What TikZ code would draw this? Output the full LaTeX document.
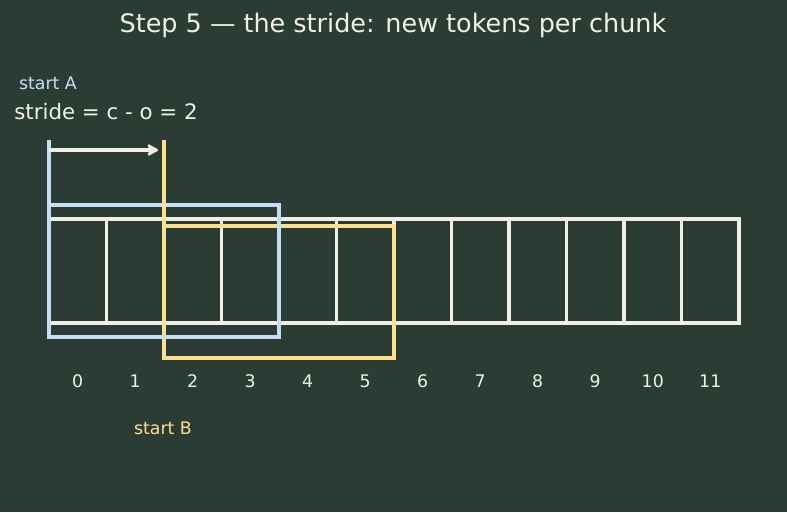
\documentclass[tikz,border=0pt]{standalone}
\usepackage{fontspec}
\setmainfont{DejaVu Sans}
\usetikzlibrary{positioning, arrows.meta}
\definecolor{sfondo}{HTML}{2B3C34}
\definecolor{gesso}{HTML}{F0F0E6}
\definecolor{azzurro}{HTML}{C6DFF7}
\definecolor{giallo}{HTML}{FCE08F}
\begin{document}
\begin{tikzpicture}[
    x=0.75pt, y=-0.75pt,
    cella/.style={rectangle, draw=gesso, line width=2.8pt, inner sep=0pt, outer sep=0pt, minimum width=43.125pt, minimum height=78pt},
    finestra/.style={rectangle, line width=2.8pt, inner sep=0pt, outer sep=0pt, minimum width=172.5pt, minimum height=99pt},
    segno/.style={line width=2.8pt},
    freccia/.style={->, >={Stealth[round, length=10pt, width=11pt, inset=3pt]}, draw=gesso, line width=2.8pt},
    indice/.style={text=gesso, font=\fontsize{13}{15}\selectfont},
    etichetta/.style={font=\fontsize{13}{15}\selectfont}
]
    % 0. Sfondo e cornice
    \fill[sfondo] (0,0) rectangle (787,512);
    \useasboundingbox (0,0) rectangle (787,512);

    % 1. Titolo e testi
    \node[text=gesso, font=\fontsize{19.1}{22}\selectfont] (titolo) at (393,25) {Step 5 — the stride: new tokens per chunk};
    \node[etichetta, text=azzurro] (startA) at (48,83) {start A};
    \node[text=gesso, font=\fontsize{16}{19}\selectfont] (stride) at (106,112) {stride = c - o = 2};
    \node[etichetta, text=giallo] (startB) at (163,428) {start B};

    % 2. Le 12 celle (token)
    \node[cella] (c0) at (77.75,271) {};
    \node[cella, right=0pt of c0]  (c1)  {};
    \node[cella, right=0pt of c1]  (c2)  {};
    \node[cella, right=0pt of c2]  (c3)  {};
    \node[cella, right=0pt of c3]  (c4)  {};
    \node[cella, right=0pt of c4]  (c5)  {};
    \node[cella, right=0pt of c5]  (c6)  {};
    \node[cella, right=0pt of c6]  (c7)  {};
    \node[cella, right=0pt of c7]  (c8)  {};
    \node[cella, right=0pt of c8]  (c9)  {};
    \node[cella, right=0pt of c9]  (c10) {};
    \node[cella, right=0pt of c10] (c11) {};

    % 3. Indici sotto le celle
    \node[indice] (i0)  at ([yshift=-43.5pt]c0.south)  {0};
    \node[indice] (i1)  at ([yshift=-43.5pt]c1.south)  {1};
    \node[indice] (i2)  at ([yshift=-43.5pt]c2.south)  {2};
    \node[indice] (i3)  at ([yshift=-43.5pt]c3.south)  {3};
    \node[indice] (i4)  at ([yshift=-43.5pt]c4.south)  {4};
    \node[indice] (i5)  at ([yshift=-43.5pt]c5.south)  {5};
    \node[indice] (i6)  at ([yshift=-43.5pt]c6.south)  {6};
    \node[indice] (i7)  at ([yshift=-43.5pt]c7.south)  {7};
    \node[indice] (i8)  at ([yshift=-43.5pt]c8.south)  {8};
    \node[indice] (i9)  at ([yshift=-43.5pt]c9.south)  {9};
    \node[indice] (i10) at ([yshift=-43.5pt]c10.south) {10};
    \node[indice] (i11) at ([yshift=-43.5pt]c11.south) {11};

    % 4. Finestre A (azzurra) e B (gialla)
    \node[finestra, draw=giallo] (winB) at (279,292) {};
    \node[finestra, draw=azzurro] (winA) at (164,271) {};

    % 5. Segni di inizio e freccia dello stride
    \coordinate (topA) at (49,140);
    \coordinate (topB) at (164,140);
    \draw[segno, azzurro] (topA) -- (winA.north west);
    \draw[segno, giallo] (topB) -- (winB.north west);
    \coordinate (fA) at (49,150);
    \coordinate (fB) at (158,150);
    \draw[freccia] (fA) -- (fB);

\end{tikzpicture}
\end{document}
